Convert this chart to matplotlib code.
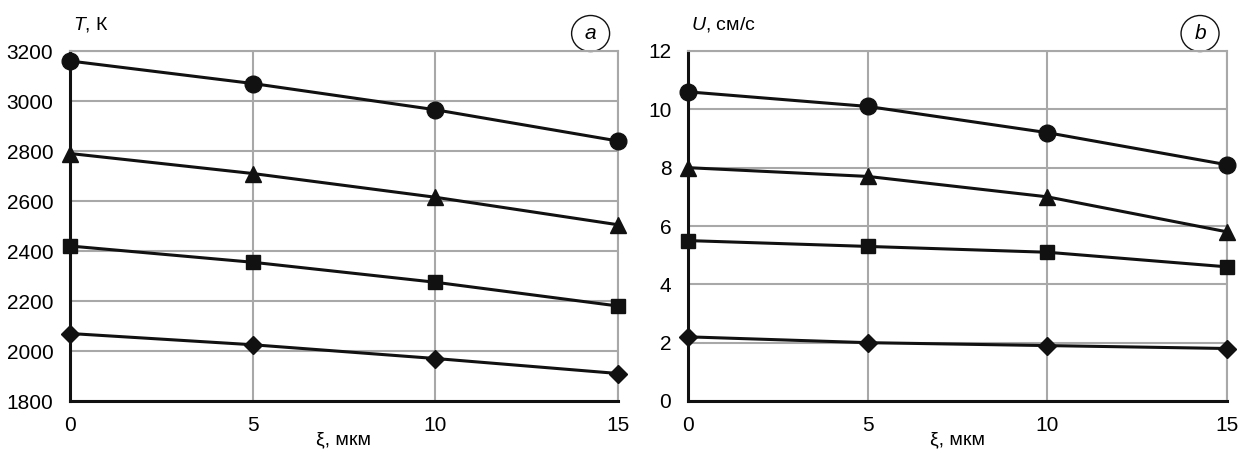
import matplotlib.pyplot as plt
from matplotlib.patches import Ellipse

# xi, mkm
xi = [0, 5, 10, 15]

# panel a: temperature, K
T_circle = [3160, 3070, 2965, 2840]
T_triangle = [2790, 2710, 2615, 2505]
T_square = [2420, 2355, 2275, 2180]
T_diamond = [2070, 2025, 1970, 1910]

# panel b: velocity, cm/s
U_circle = [10.6, 10.1, 9.2, 8.1]
U_triangle = [8.0, 7.7, 7.0, 5.8]
U_square = [5.5, 5.3, 5.1, 4.6]
U_diamond = [2.2, 2.0, 1.9, 1.8]

plt.rcParams['font.family'] = ['Liberation Sans', 'DejaVu Sans']
plt.rcParams['font.size'] = 15
plt.rcParams['mathtext.fontset'] = 'custom'
plt.rcParams['mathtext.rm'] = 'Liberation Sans'
plt.rcParams['mathtext.it'] = 'Liberation Sans:italic'

fig = plt.figure(figsize=(12.4, 4.5), dpi=100)
ax1 = fig.add_axes([70/1240, 49/450, 548/1240, 350/450])
ax2 = fig.add_axes([688/1240, 49/450, 539/1240, 350/450])

markers = [('o', 12), ('^', 12), ('s', 10.5), ('D', 9)]

def draw(ax, series, ylim, yticks, ylabel, letter):
    for (m, ms), ys in zip(markers, series):
        ax.plot(xi, ys, color='#111111', lw=2.2, marker=m, ms=ms, clip_on=False, zorder=3)
    ax.set_xlim(0, 15)
    ax.set_ylim(*ylim)
    ax.set_xticks(xi)
    ax.set_yticks(yticks)
    ax.grid(True, color='#a8a8a8', lw=1.5)
    ax.set_axisbelow(True)
    ax.tick_params(axis='x', length=0, pad=11, labelsize=15)
    ax.tick_params(axis='y', length=0, pad=12, labelsize=15)
    for s in ['top', 'right']:
        ax.spines[s].set_color('#a8a8a8')
        ax.spines[s].set_linewidth(1.5)
    for s in ['left', 'bottom']:
        ax.spines[s].set_color('#111111')
        ax.spines[s].set_linewidth(2.2)
    ax.set_xlabel('ξ, мкм', fontsize=14, labelpad=-3)
    ax.text(0.005, 1.075, ylabel, transform=ax.transAxes, fontsize=14, ha='left', va='center')
    ax.text(0.95, 1.05, letter, transform=ax.transAxes, fontsize=15, style='italic',
            ha='center', va='center')
    ax.add_patch(Ellipse((0.95, 1.05), 38/ax.bbox.width, 36/ax.bbox.height,
                         transform=ax.transAxes, fill=False, ec='#111111', lw=1,
                         clip_on=False))

draw(ax1, [T_circle, T_triangle, T_square, T_diamond], (1800, 3200),
     range(1800, 3201, 200), r'$T$, К', 'a')
draw(ax2, [U_circle, U_triangle, U_square, U_diamond], (0, 12),
     range(0, 13, 2), r'$U$, см/с', 'b')

fig.savefig('out.png', dpi=100)
